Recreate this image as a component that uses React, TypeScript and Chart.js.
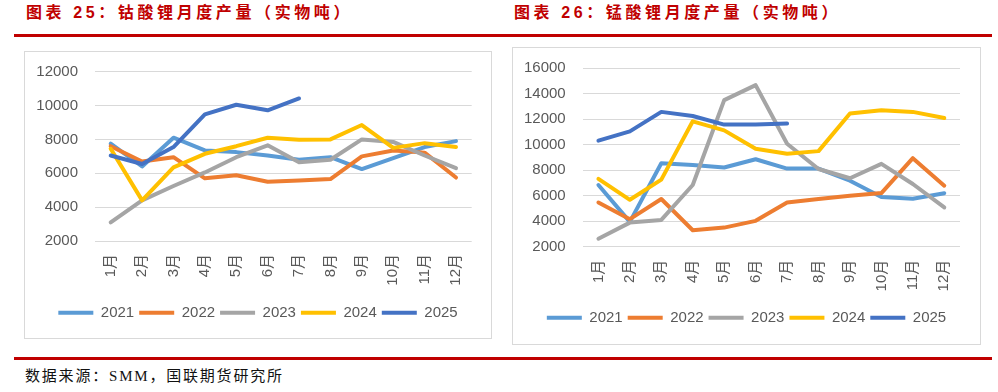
import React, { useEffect, useRef } from "react";
import { Chart, registerables } from "chart.js";

Chart.register(...registerables);

// ---------- data ----------
const months = ["1月", "2月", "3月", "4月", "5月", "6月", "7月", "8月", "9月", "10月", "11月", "12月"];
const seriesNames = ["2021", "2022", "2023", "2024", "2025"];
const seriesColors = ["#5B9BD5", "#ED7D31", "#A5A5A5", "#FFC000", "#4472C4"];

// 钴酸锂月度产量（实物吨）
const lco2021 = [7750, 6400, 8100, 7350, 7250, 7050, 6800, 6950, 6250, 6900, 7550, 7900];
const lco2022 = [7600, 6700, 6950, 5700, 5880, 5500, 5580, 5660, 7000, 7350, 7220, 5750];
const lco2023 = [3100, 4400, 5250, 6050, 6950, 7650, 6650, 6800, 8000, 7850, 7050, 6300];
const lco2024 = [7450, 4400, 6350, 7150, 7600, 8100, 7980, 8000, 8850, 7500, 7780, 7550];
const lco2025 = [7050, 6550, 7550, 9480, 10050, 9720, 10420];

// 锰酸锂月度产量（实物吨）
const lmo2021 = [6840, 3950, 8550, 8420, 8220, 8860, 8130, 8130, 7180, 5900, 5770, 6200];
const lmo2022 = [5470, 4160, 5740, 3290, 3500, 4030, 5470, 5740, 6000, 6210, 8950, 6790];
const lmo2023 = [2630, 3890, 4100, 6840, 13500, 14680, 10080, 8100, 7370, 8500, 6920, 5080];
const lmo2024 = [7320, 5680, 7260, 11840, 11130, 9680, 9290, 9500, 12450, 12710, 12580, 12100];
const lmo2025 = [10320, 11050, 12580, 12260, 11580, 11580, 11660];

const lcoAxis = { min: 2000, max: 12000, step: 2000 };
const lmoAxis = { min: 2000, max: 16000, step: 2000 };

const leftTitle = "图表 25：钴酸锂月度产量（实物吨）";
const rightTitle = "图表 26：锰酸锂月度产量（实物吨）";
const sourceText = "数据来源：SMM，国联期货研究所";

const FONT = "'Liberation Sans', 'Noto Sans CJK SC', sans-serif";
const TEXT_COLOR = "#595959";

type ChartProps = {
  left: number;
  top: number;
  width: number;
  height: number;
  series: number[][];
  axis: { min: number; max: number; step: number };
  yW: number;
  y2W: number;
  padTop: number;
  padBottom: number;
  xH: number;
};

function LineChart(p: ChartProps) {
  const ref = useRef<HTMLCanvasElement>(null);
  useEffect(() => {
    const canvas = ref.current;
    if (!canvas) return;
    const tickFont = { family: FONT, size: 15 };
    const chart = new Chart(canvas, {
      type: "line",
      data: {
        labels: months,
        datasets: seriesNames.map((name, i) => ({
          label: name,
          data: p.series[i],
          borderColor: seriesColors[i],
          backgroundColor: seriesColors[i],
          borderWidth: 4,
          pointRadius: 0,
          pointHoverRadius: 0,
          tension: 0,
          fill: false,
          borderCapStyle: "round",
          borderJoinStyle: "round",
          order: seriesNames.length - 1 - i,
        })),
      },
      options: {
        responsive: false,
        animation: false,
        devicePixelRatio: 1,
        events: [],
        layout: { padding: { top: p.padTop, left: 0, right: 0, bottom: p.padBottom } },
        plugins: {
          tooltip: { enabled: false },
          legend: {
            position: "bottom",
            labels: {
              usePointStyle: true,
              pointStyle: "line",
              pointStyleWidth: 35,
              boxHeight: 4,
              padding: 5,
              color: TEXT_COLOR,
              font: tickFont,
              sort: (a: any, b: any) => a.datasetIndex - b.datasetIndex,
            },
          },
        },
        scales: {
          x: {
            type: "category",
            offset: true,
            grid: { display: false },
            border: { display: false },
            ticks: {
              autoSkip: false,
              minRotation: 90,
              maxRotation: 90,
              padding: 5,
              color: TEXT_COLOR,
              font: tickFont,
            },
            afterFit: (s: any) => {
              s.height = p.xH;
            },
          },
          y: {
            type: "linear",
            min: p.axis.min,
            max: p.axis.max,
            grid: { color: "#D9D9D9", lineWidth: 1, drawTicks: false },
            border: { display: false },
            ticks: {
              stepSize: p.axis.step,
              padding: 17,
              color: TEXT_COLOR,
              font: tickFont,
              callback: (v: any) => String(v),
            },
            afterFit: (s: any) => {
              s.width = p.yW;
              s.paddingTop = 0;
              s.paddingBottom = 0;
            },
          },
          y2: {
            type: "linear",
            axis: "y",
            position: "right",
            grid: { display: false },
            border: { display: false },
            ticks: { display: false },
            afterFit: (s: any) => {
              s.width = p.y2W;
              s.paddingTop = 0;
              s.paddingBottom = 0;
            },
          },
        },
      } as any,
    });
    return () => chart.destroy();
  }, []);
  return (
    <canvas
      ref={ref}
      width={p.width}
      height={p.height}
      style={{ position: "absolute", left: p.left, top: p.top, width: p.width, height: p.height }}
    />
  );
}

const titleStyle: React.CSSProperties = {
  position: "absolute",
  top: 3,
  height: 20,
  lineHeight: "20px",
  fontFamily: "'Liberation Sans', 'Noto Sans CJK SC', sans-serif",
  fontWeight: 700,
  fontSize: 16,
  letterSpacing: 3.6,
  color: "#C00000",
  whiteSpace: "nowrap",
};

export default function App() {
  return (
    <div
      style={{
        position: "absolute",
        left: 0,
        top: 0,
        width: 998,
        height: 392,
        background: "#FFFFFF",
        overflow: "hidden",
      }}
    >
      <div style={{ ...titleStyle, left: 26 }}>{leftTitle}</div>
      <div style={{ ...titleStyle, left: 514 }}>{rightTitle}</div>
      <div style={{ position: "absolute", left: 14, top: 34, width: 978, height: 3, background: "#C00000" }} />

      <div
        style={{
          position: "absolute",
          left: 24,
          top: 51,
          width: 466,
          height: 286,
          border: "1px solid #D9D9D9",
        }}
      />
      <LineChart
        left={25}
        top={52}
        width={466}
        height={286}
        series={[lco2021, lco2022, lco2023, lco2024, lco2025]}
        axis={lcoAxis}
        yW={70}
        y2W={19.3}
        padTop={19.7}
        padBottom={7.8}
        xH={59.2}
      />

      <div
        style={{
          position: "absolute",
          left: 512,
          top: 47,
          width: 467,
          height: 296,
          border: "1px solid #D9D9D9",
        }}
      />
      <LineChart
        left={513}
        top={48}
        width={467}
        height={296}
        series={[lmo2021, lmo2022, lmo2023, lmo2024, lmo2025]}
        axis={lmoAxis}
        yW={69.7}
        y2W={20}
        padTop={20.3}
        padBottom={8.8}
        xH={58.5}
      />

      <div style={{ position: "absolute", left: 14, top: 357, width: 978, height: 3, background: "#C00000" }} />
      <div
        style={{
          position: "absolute",
          left: 25,
          top: 366,
          height: 20,
          lineHeight: "20px",
          fontFamily: "'Liberation Serif', 'Noto Sans CJK SC', serif",
          fontSize: 15,
          letterSpacing: 1.8,
          color: "#111111",
          whiteSpace: "nowrap",
        }}
      >
        {sourceText}
      </div>
    </div>
  );
}
